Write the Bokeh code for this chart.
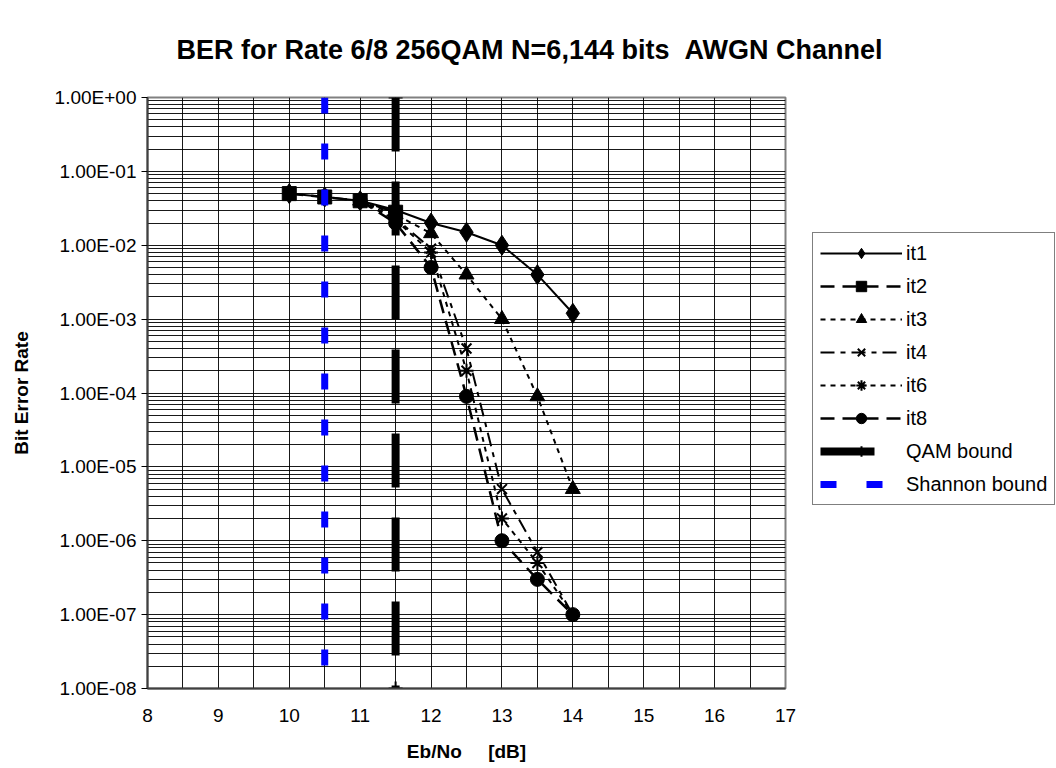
import math
from bokeh.plotting import figure
from bokeh.models import (FixedTicker, CustomJSTickFormatter, Legend, LegendItem, Range1d, Title)
from bokeh.embed import file_html
from bokeh.resources import INLINE

# ---------------- data ----------------
title_text = "BER for Rate 6/8 256QAM N=6,144 bits \u00a0AWGN Channel"
x_label = "Eb/No\u00a0\u00a0\u00a0\u00a0\u00a0[dB]"
y_label = "Bit Error Rate"

x_ticks = [8, 9, 10, 11, 12, 13, 14, 15, 16, 17]
y_decades = [1e-8, 1e-7, 1e-6, 1e-5, 1e-4, 1e-3, 1e-2, 1e-1, 1e0]

it1_x = [10, 10.5, 11, 11.5, 12, 12.5, 13, 13.5, 14]
it1_y = [5e-2, 4.5e-2, 4e-2, 3e-2, 2e-2, 1.5e-2, 1e-2, 4e-3, 1.2e-3]

it2_x = [10, 10.5, 11, 11.5]
it2_y = [5e-2, 4.5e-2, 4e-2, 2.8e-2]

it3_x = [11, 11.5, 12, 12.5, 13, 13.5, 14]
it3_y = [4e-2, 2.6e-2, 1.45e-2, 4e-3, 1e-3, 9e-5, 5e-6]

it4_x = [11, 11.5, 12, 12.5, 13, 13.5, 14]
it4_y = [4e-2, 2.3e-2, 9e-3, 4e-4, 5e-6, 7e-7, 1e-7]

it6_x = [11, 11.5, 12, 12.5, 13, 13.5, 14]
it6_y = [4e-2, 2.2e-2, 8e-3, 2e-4, 2e-6, 5e-7, 1e-7]

it8_x = [11, 11.5, 12, 12.5, 13, 13.5, 14]
it8_y = [4e-2, 2e-2, 5e-3, 9e-5, 1e-6, 3e-7, 1e-7]

qam_x = [11.5, 11.5]
qam_y = [1e0, 1e-8]

shannon_x = [10.5, 10.5]
shannon_y = [1e0, 1e-8]

FONT = "Liberation Sans"

p = figure(frame_width=638, frame_height=591,
           min_border_left=147, min_border_right=263,
           min_border_top=97, min_border_bottom=72,
           y_axis_type="log", output_backend="svg", toolbar_location=None,
           x_range=Range1d(8, 17), y_range=Range1d(1e-8, 1e0))
p.background_fill_color = "white"
p.border_fill_color = "white"
p.outline_line_color = "#808080"
p.outline_line_width = 2

# ticks & grids
minor_x = [v + 0.5 for v in x_ticks[:-1]]
p.xaxis.ticker = FixedTicker(ticks=x_ticks, minor_ticks=minor_x)
minor_y = []
for d in y_decades[:-1]:
    for m in range(2, 10):
        minor_y.append(d * m)
p.yaxis.ticker = FixedTicker(ticks=y_decades, minor_ticks=minor_y)

for g in (p.xgrid, p.ygrid):
    g.grid_line_color = "black"
    g.grid_line_alpha = 0.9
    g.grid_line_width = 1
    g.minor_grid_line_color = "black"
    g.minor_grid_line_alpha = 0.9
    g.minor_grid_line_width = 1

p.yaxis.formatter = CustomJSTickFormatter(code="""
const s = tick.toExponential(2).toUpperCase();
const parts = s.split('E');
let e = parts[1];
const sign = e[0] === '-' ? '-' : '+';
e = e.replace('+','').replace('-','');
if (e.length < 2) e = '0' + e;
return parts[0] + 'E' + sign + e;
""")

for ax in (p.xaxis, p.yaxis):
    ax.axis_line_color = "#404040"
    ax.axis_line_width = 2
    ax.major_label_text_font = FONT
    ax.major_label_text_font_size = "19px"
    ax.major_label_text_color = "black"
    ax.minor_tick_line_color = None
    ax.axis_label_text_font = FONT
    ax.axis_label_text_font_style = "bold"
    ax.axis_label_text_font_size = "19px"
    ax.axis_label_text_color = "black"

p.xaxis.major_tick_line_color = None
p.xaxis.major_label_standoff = 14
p.yaxis.major_tick_out = 6
p.yaxis.major_tick_in = 0
p.yaxis.major_tick_line_color = "black"
p.yaxis.major_label_standoff = 5

p.xaxis.axis_label = x_label
p.xaxis.axis_label_standoff = 16
p.yaxis.axis_label = y_label
p.yaxis.axis_label_standoff = 20

# series
r1l = p.line(it1_x, it1_y, line_color="black", line_width=2)
r1m = p.scatter(it1_x, it1_y, marker="diamond", size=20, fill_color="black", line_color="black")

r2l = p.line(it2_x, it2_y, line_color="black", line_width=2.5, line_dash="14 8")
r2m = p.scatter(it2_x, it2_y, marker="square", size=14, fill_color="black", line_color="black")

r3l = p.line(it3_x, it3_y, line_color="black", line_width=2, line_dash="5 5")
r3m = p.scatter(it3_x, it3_y, marker="triangle", size=15, fill_color="black", line_color="black")

r4l = p.line(it4_x, it4_y, line_color="black", line_width=2, line_dash="14 6 5 6")
r4m = p.scatter(it4_x, it4_y, marker="x", size=14, line_color="black", line_width=2)

r6l = p.line(it6_x, it6_y, line_color="black", line_width=2, line_dash="5 5")
r6m = p.scatter(it6_x, it6_y, marker="asterisk", size=14, line_color="black", line_width=2)

r8l = p.line(it8_x, it8_y, line_color="black", line_width=2.5, line_dash="14 8")
r8m = p.scatter(it8_x, it8_y, marker="circle", size=14, fill_color="black", line_color="black")

rql = p.line(qam_x, qam_y, line_color="black", line_width=8, line_dash="54 30")
rqm = p.scatter(qam_x, qam_y, marker="cross", size=14, line_color="black", line_width=2)

rsl = p.line(shannon_x, shannon_y, line_color="#0000ff", line_width=7, line_dash="16 30")

legend = Legend(items=[
    LegendItem(label="it1", renderers=[r1l, r1m]),
    LegendItem(label="it2", renderers=[r2l, r2m]),
    LegendItem(label="it3", renderers=[r3l, r3m]),
    LegendItem(label="it4", renderers=[r4l, r4m]),
    LegendItem(label="it6", renderers=[r6l, r6m]),
    LegendItem(label="it8", renderers=[r8l, r8m]),
    LegendItem(label="QAM bound", renderers=[rql, rqm]),
    LegendItem(label="Shannon bound", renderers=[rsl]),
], location=(27, 183))
legend.glyph_width = 82
legend.glyph_height = 26
legend.label_height = 26
legend.spacing = 7
legend.padding = 7
legend.margin = 0
legend.label_standoff = 4
legend.label_text_font = FONT
legend.label_text_font_size = "20px"
legend.label_text_color = "black"
legend.border_line_color = "black"
legend.border_line_width = 1
legend.background_fill_color = "white"
legend.background_fill_alpha = 1
p.add_layout(legend, "right")

title = Title(text=title_text, align="left", offset=29, standoff=65,
              text_font=FONT, text_font_style="bold", text_font_size="27px",
              text_color="black")
p.add_layout(title, "above")

open("out.html", "w").write(file_html(p, INLINE))
